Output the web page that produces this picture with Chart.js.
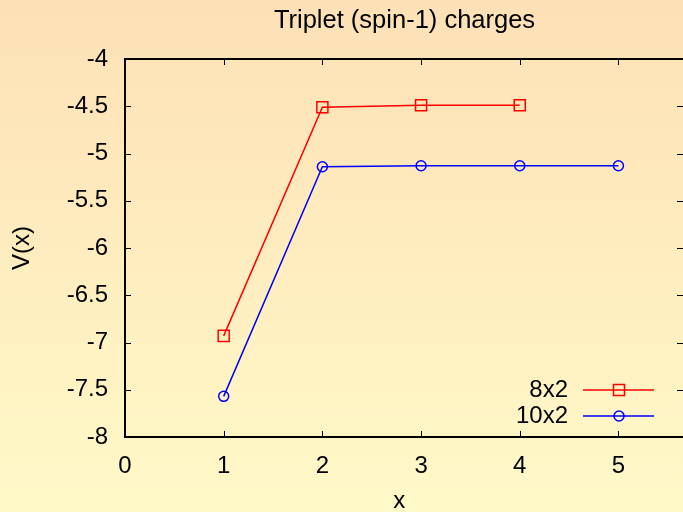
<!DOCTYPE html>
<html lang="en">
<head>
    <meta charset="UTF-8">
    <title>Triplet (spin-1) charges</title>
    <script src="https://cdn.jsdelivr.net/npm/chart.js"></script>
    <style>
        html, body { margin: 0; padding: 0; overflow: hidden; background: #fff9c9; }
        canvas { display: block; }
    </style>
</head>
<body>
    <canvas id="chart" width="683" height="512"></canvas>

    <script>
        // datos
        const xs8 = [1, 2, 3, 4];
        const v8x2 = [-6.93, -4.51, -4.49, -4.49];
        const xs10 = [1, 2, 3, 4, 5];
        const v10x2 = [-7.57, -5.14, -5.13, -5.13, -5.13];
        const xTicks = [0, 1, 2, 3, 4, 5];
        const yTicks = [-8, -7.5, -7, -6.5, -6, -5.5, -5, -4.5, -4];
        const titulo = 'Triplet (spin-1) charges';

        const FONT = 'Liberation Sans, Arial, Helvetica, sans-serif';

        // fondo degradado
        const fondo = {
            id: 'fondo',
            beforeDraw(chart) {
                const ctx = chart.ctx;
                const g = ctx.createLinearGradient(0, 0, 0, chart.height);
                g.addColorStop(0, 'rgb(253,224,182)');
                g.addColorStop(1, 'rgb(255,249,200)');
                ctx.save();
                ctx.fillStyle = g;
                ctx.fillRect(0, 0, chart.width, chart.height);
                ctx.restore();
            }
        };

        // marco, marcas hacia dentro, titulo y leyenda, estilo gnuplot
        // (el borde derecho queda fuera de la imagen original)
        const marco = {
            id: 'marco',
            afterDatasetsDraw(chart) {
                const { ctx, chartArea: a, scales } = chart;
                ctx.save();
                ctx.strokeStyle = '#000';
                ctx.lineWidth = 1;
                const t = 6;
                ctx.beginPath();
                scales.x.ticks.forEach(tk => {
                    const px = Math.round(scales.x.getPixelForValue(tk.value)) + 0.5;
                    ctx.moveTo(px, a.bottom); ctx.lineTo(px, a.bottom - t);
                    ctx.moveTo(px, a.top); ctx.lineTo(px, a.top + t);
                });
                scales.y.ticks.forEach(tk => {
                    const py = Math.round(scales.y.getPixelForValue(tk.value)) + 0.5;
                    ctx.moveTo(a.left, py); ctx.lineTo(a.left + t, py);
                    ctx.moveTo(chart.width, py); ctx.lineTo(chart.width - t, py);
                });
                ctx.stroke();
                ctx.lineWidth = 2;
                ctx.beginPath();
                ctx.moveTo(chart.width, a.top);
                ctx.lineTo(a.left, a.top);
                ctx.lineTo(a.left, a.bottom);
                ctx.lineTo(chart.width, a.bottom);
                ctx.stroke();

                // titulo centrado sobre el area del grafico
                ctx.fillStyle = '#000';
                ctx.textAlign = 'center';
                ctx.textBaseline = 'middle';
                ctx.font = '25.5px ' + FONT;
                ctx.fillText(titulo, (125 + 684) / 2, 21);

                // leyenda
                const filas = chart.data.datasets.map((ds, i) => ({
                    label: ds.label, color: ds.borderColor, style: ds.pointStyle,
                    r: ds.pointRadius, y: 390 + i * 26
                }));
                ctx.font = '24px ' + FONT;
                ctx.textAlign = 'right';
                filas.forEach(f => {
                    ctx.fillStyle = '#000';
                    ctx.fillText(f.label, 568, f.y);
                    ctx.strokeStyle = f.color;
                    ctx.lineWidth = 1.5;
                    ctx.beginPath();
                    ctx.moveTo(583, f.y); ctx.lineTo(654, f.y);
                    ctx.stroke();
                    ctx.fillStyle = 'rgba(0,0,0,0)';
                    Chart.helpers.drawPoint(ctx, { pointStyle: f.style, radius: f.r, borderWidth: 1.5 }, 619, f.y);
                });
                ctx.restore();
            }
        };

        new Chart(document.getElementById('chart'), {
            type: 'line',
            data: {
                datasets: [{
                    label: '8x2',
                    data: xs8.map((x, i) => ({ x: x, y: v8x2[i] })),
                    borderColor: '#ff0000',
                    backgroundColor: 'transparent',
                    borderWidth: 1.5,
                    pointStyle: 'rect',
                    pointRadius: 7.8,
                    pointBorderWidth: 1.5,
                    pointBorderColor: '#ff0000',
                    pointBackgroundColor: 'transparent',
                    tension: 0
                }, {
                    label: '10x2',
                    data: xs10.map((x, i) => ({ x: x, y: v10x2[i] })),
                    borderColor: '#0000ff',
                    backgroundColor: 'transparent',
                    borderWidth: 1.5,
                    pointStyle: 'circle',
                    pointRadius: 5,
                    pointBorderWidth: 1.5,
                    pointBorderColor: '#0000ff',
                    pointBackgroundColor: 'transparent',
                    tension: 0
                }]
            },
            options: {
                responsive: false,
                animation: false,
                layout: { padding: { left: 0, right: 0, top: 59, bottom: 0 } },
                plugins: {
                    legend: { display: false },
                    tooltip: { enabled: false },
                    title: { display: false }
                },
                scales: {
                    x: {
                        type: 'linear',
                        min: 0,
                        max: 5.56,
                        afterBuildTicks(s) { s.ticks = xTicks.map(v => ({ value: v })); },
                        afterFit(s) { s.height = 75; s.paddingRight = 0; s.paddingLeft = 0; },
                        grid: { display: false, drawTicks: false },
                        border: { display: false },
                        ticks: {
                            color: '#000',
                            padding: 15,
                            maxRotation: 0,
                            font: { family: FONT, size: 24 },
                            callback: v => String(v)
                        },
                        title: {
                            display: true,
                            text: 'x',
                            color: '#000',
                            font: { family: FONT, size: 24 },
                            padding: { top: 0, bottom: -4 }
                        }
                    },
                    y: {
                        min: -8,
                        max: -4,
                        afterBuildTicks(s) { s.ticks = yTicks.map(v => ({ value: v })); },
                        afterFit(s) { s.width = 125; },
                        grid: { display: false, drawTicks: false },
                        border: { display: false },
                        ticks: {
                            color: '#000',
                            padding: 17,
                            font: { family: FONT, size: 24 },
                            callback: v => String(v)
                        },
                        title: {
                            display: true,
                            text: 'V(x)',
                            color: '#000',
                            font: { family: FONT, size: 24 },
                            padding: { top: 8, bottom: 0 }
                        }
                    }
                }
            },
            plugins: [fondo, marco]
        });
    </script>
</body>
</html>
